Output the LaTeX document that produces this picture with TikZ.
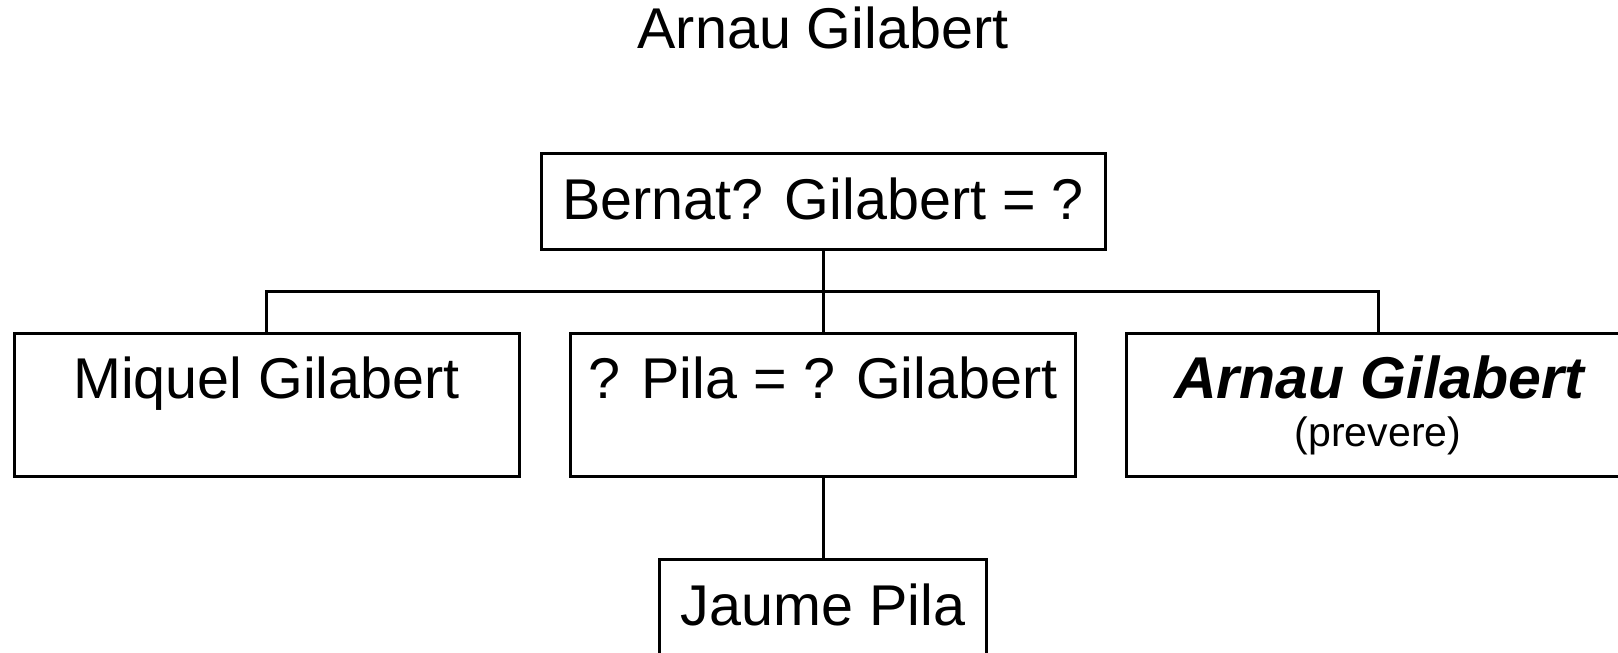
\documentclass[tikz,border=0pt]{standalone}
\usepackage{fontspec}
\setmainfont{Liberation Sans}
\begin{document}
\begin{tikzpicture}[x=1pt,y=-1pt,
  box/.style={draw=black, line width=3pt, rectangle, inner sep=0pt},
  txt/.style={inner sep=0pt, anchor=base, font=\fontsize{57.5}{60}\selectfont},
  small/.style={inner sep=0pt, anchor=base, font=\fontsize{41}{44}\selectfont},
  link/.style={draw=black, line width=3pt}]
\useasboundingbox[fill=white] (0,0) rectangle (1618,653);
% title
\node[txt] (title) at (823,48) {Arnau Gilabert};
% boxes
\node[box, minimum width=564pt, minimum height=96pt] (top) at (823,201) {};
\node[box, minimum width=505pt, minimum height=143pt] (miquel) at (266.5,404.5) {};
\node[box, minimum width=505pt, minimum height=143pt] (pila) at (823,404.5) {};
\node[box, minimum width=504pt, minimum height=143pt] (arnau) at (1378,404.5) {};
\node[box, minimum width=327pt, minimum height=143pt] (jaume) at (823,630.5) {};
% texts
\node[txt] (ttop) at (823,219) {Bernat? Gilabert = ?};
\node[txt] (tmiquel) at (266.5,398) {Miquel Gilabert};
\node[txt] (tpila) at (823,398) {? Pila = ? Gilabert};
\node[txt, font=\fontsize{59}{62}\selectfont\bfseries\itshape] (tarnau) at (1379,398) {Arnau Gilabert};
\node[small] (tprev) at (1378,446) {(prevere)};
\node[txt] (tjaume) at (823,625) {Jaume Pila};
% connectors
\coordinate (bar) at (823,291);
\draw[link] (top.south) -- (pila.north);
\draw[link] (miquel.north) |- (bar) -| (arnau.north);
\draw[link] (pila.south) -- (jaume.north);
\end{tikzpicture}
\end{document}
